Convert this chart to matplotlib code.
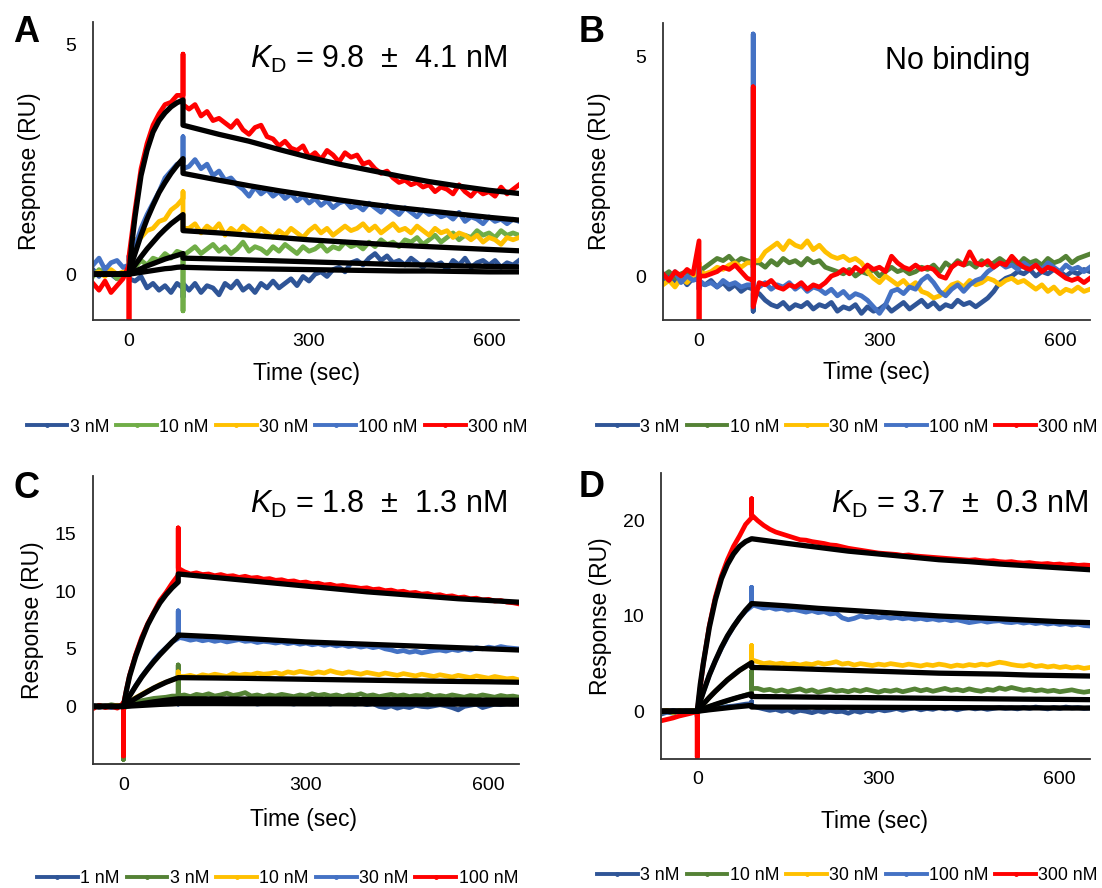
import numpy as np
import matplotlib.pyplot as plt
from matplotlib.lines import Line2D

plt.rcParams['font.family'] = ['Liberation Sans', 'DejaVu Sans']
plt.rcParams['mathtext.fontset'] = 'custom'
plt.rcParams['mathtext.rm'] = 'Liberation Sans'
plt.rcParams['mathtext.it'] = 'Liberation Sans:italic'

# sampling times (sec); 0 and 90 are repeated for the injection spikes
time = np.concatenate([np.arange(-60, 0, 10), [0, 0, 0], np.arange(10, 90, 10),
                       [90, 90, 90], np.arange(100, 660, 10)])
fit_time = [-60, 0, 5, 10, 20, 30, 40, 50, 60, 70, 80, 90,
            90, 150, 200, 250, 300, 350, 400, 450, 500, 550, 600, 650]

# ---------------- panel A ----------------
a_labels = ['3 nM', '10 nM', '30 nM', '100 nM', '300 nM']
a_3 = [0.1, -0.05, 0.15, 0.0, -0.1, 0.05, 0.05, 0.2, -0.1,
       -0.15, -0.05, -0.3, -0.2, -0.35, -0.25, -0.4, -0.2, -0.3, -0.5, -0.2,
       -0.35, -0.2, -0.4, -0.25, -0.3, -0.45, -0.2, -0.3, -0.15, -0.35, -0.25, -0.4, -0.2, -0.3,
       -0.15, -0.3, -0.2, -0.1, -0.25, -0.05, -0.15, 0.0, 0.05, -0.05, 0.1, 0.15, 0.05, 0.25,
       0.3, 0.2, 0.35, 0.45, 0.3, 0.4, 0.25, 0.3, 0.2, 0.35, 0.25, 0.15, 0.3, 0.2,
       0.25, 0.1, 0.3, 0.2, 0.35, 0.15, 0.25, 0.3, 0.2, 0.3, 0.15, 0.25, 0.2, 0.3]
a_10 = [-0.05, 0.1, 0.0, 0.05, -0.1, 0.0, 0.0, 0.1, 0.0,
        0.15, 0.3, 0.2, 0.35, 0.3, 0.45, 0.35, 0.5, 0.45, -0.8, 0.4,
        0.5, 0.6, 0.45, 0.55, 0.65, 0.5, 0.6, 0.45, 0.55, 0.7, 0.5, 0.6, 0.55, 0.45,
        0.6, 0.5, 0.65, 0.55, 0.45, 0.6, 0.5, 0.55, 0.65, 0.5, 0.6, 0.55, 0.7, 0.6,
        0.65, 0.55, 0.7, 0.6, 0.75, 0.65, 0.7, 0.6, 0.75, 0.7, 0.8, 0.65, 0.75, 0.85,
        0.7, 0.8, 0.9, 0.75, 0.85, 0.8, 0.95, 0.85, 0.9, 0.8, 0.95, 0.85, 0.9, 0.85]
a_30 = [0.0, 0.05, -0.05, 0.1, 0.0, 0.05, 0.0, 0.3, 0.2,
        0.75, 0.8, 0.95, 1.0, 1.15, 1.2, 1.4, 1.5, 1.65, 1.8, 1.0,
        1.0, 1.1, 0.9, 1.05, 0.95, 1.1, 0.85, 1.0, 0.9, 1.05, 0.95, 0.85, 1.0, 0.9,
        0.8, 0.95, 0.85, 1.0, 0.9, 0.8, 0.95, 1.05, 0.9, 1.0, 0.85, 0.95, 1.05, 0.95,
        1.0, 1.1, 0.95, 1.05, 0.9, 1.0, 1.1, 0.95, 1.0, 0.9, 1.05, 0.95, 0.85, 1.0,
        0.9, 0.95, 0.8, 0.9, 0.85, 0.75, 0.85, 0.7, 0.8, 0.75, 0.65, 0.8, 0.75, 0.8]
a_100 = [0.2, 0.35, 0.1, 0.25, 0.3, 0.15, 0.2, 0.4, 0.3,
         0.6, 1.0, 1.3, 1.55, 1.8, 2.1, 2.25, 2.4, 2.45, 3.0, 2.3,
         2.35, 2.5, 2.3, 2.4, 2.15, 2.25, 2.05, 2.1, 1.95, 1.85, 1.7, 1.9, 1.75, 1.85,
         1.7, 1.8, 1.65, 1.75, 1.6, 1.7, 1.55, 1.65, 1.5, 1.6, 1.45, 1.55, 1.6, 1.45,
         1.5, 1.4, 1.55, 1.45, 1.35, 1.5, 1.4, 1.3, 1.45, 1.35, 1.25, 1.4, 1.3, 1.35,
         1.25, 1.3, 1.2, 1.35, 1.15, 1.25, 1.2, 1.1, 1.25, 1.15, 1.2, 1.1, 1.2, 1.15]
a_300 = [-0.2, -0.35, -0.15, -0.4, -0.25, -0.1, 0.2, -1.2, 0.4,
         1.4, 2.3, 2.85, 3.25, 3.5, 3.7, 3.75, 3.9, 3.9, 4.8, 3.7,
         3.6, 3.7, 3.45, 3.55, 3.35, 3.4, 3.3, 3.2, 3.35, 3.15, 3.05, 3.2, 3.25, 3.0,
         2.95, 2.8, 2.9, 2.75, 2.7, 2.8, 2.55, 2.65, 2.5, 2.7, 2.6, 2.45, 2.65, 2.55,
         2.6, 2.4, 2.45, 2.3, 2.2, 2.25, 2.1, 2.0, 2.05, 1.95, 2.0, 1.9, 1.95, 1.8,
         1.9, 1.85, 1.75, 1.95, 1.8, 1.7, 1.85, 1.75, 1.8, 1.7, 1.9, 1.75, 1.85, 1.95]
a_fit_3 = [0, 0, 0.01, 0.02, 0.04, 0.06, 0.08, 0.1, 0.12, 0.13, 0.15, 0.16,
           0.15, 0.13, 0.12, 0.11, 0.1, 0.09, 0.08, 0.07, 0.07, 0.06, 0.05, 0.05]
a_fit_10 = [0, 0, 0.03, 0.06, 0.12, 0.18, 0.23, 0.28, 0.33, 0.37, 0.41, 0.45,
            0.35, 0.33, 0.31, 0.29, 0.27, 0.25, 0.23, 0.21, 0.2, 0.18, 0.17, 0.16]
a_fit_30 = [0, 0, 0.1, 0.2, 0.38, 0.55, 0.7, 0.85, 0.98, 1.1, 1.2, 1.3,
            0.95, 0.9, 0.85, 0.8, 0.75, 0.71, 0.67, 0.63, 0.6, 0.57, 0.54, 0.51]
a_fit_100 = [0, 0, 0.25, 0.45, 0.85, 1.2, 1.5, 1.78, 2.0, 2.2, 2.37, 2.52,
             2.2, 2.05, 1.93, 1.82, 1.72, 1.62, 1.53, 1.45, 1.38, 1.31, 1.24, 1.18]
a_fit_300 = [0, 0, 0.7, 1.25, 2.15, 2.7, 3.1, 3.35, 3.52, 3.65, 3.74, 3.8,
             3.25, 3.05, 2.9, 2.72, 2.55, 2.4, 2.27, 2.14, 2.02, 1.92, 1.83, 1.76]

# ---------------- panel B ----------------
b_labels = ['3 nM', '10 nM', '30 nM', '100 nM', '300 nM']
b_3 = [-0.1, 0.05, -0.15, 0.0, -0.2, -0.05, -0.1, -0.3, -0.15,
       -0.2, -0.1, -0.25, -0.15, -0.3, -0.2, -0.35, -0.25, -0.3, -0.8, -0.4,
       -0.4, -0.55, -0.65, -0.7, -0.6, -0.75, -0.65, -0.7, -0.6, -0.75, -0.65, -0.7, -0.6, -0.8,
       -0.7, -0.75, -0.65, -0.85, -0.7, -0.8, -0.75, -0.65, -0.8, -0.7, -0.6, -0.75, -0.65, -0.55,
       -0.7, -0.6, -0.75, -0.65, -0.7, -0.55, -0.65, -0.6, -0.7, -0.6, -0.5, -0.35, -0.15, -0.05,
       0.0, 0.1, 0.05, 0.15, 0.0, 0.1, 0.05, 0.15, 0.1, 0.0, 0.1, 0.05, 0.15, 0.1]
b_10 = [0.0, 0.1, -0.05, 0.05, 0.1, 0.0, 0.05, 0.2, 0.1,
        0.2, 0.3, 0.4, 0.35, 0.45, 0.3, 0.4, 0.35, 0.3, 0.2, 0.3,
        0.3, 0.2, 0.35, 0.25, 0.4, 0.3, 0.35, 0.25, 0.4, 0.3, 0.35, 0.2, 0.15, 0.1,
        0.05, 0.15, 0.0, 0.1, 0.05, 0.15, 0.0, 0.1, 0.2, 0.1, 0.15, 0.05, 0.1, 0.2,
        0.15, 0.25, 0.1, 0.3, 0.2, 0.35, 0.25, 0.3, 0.2, 0.35, 0.25, 0.3, 0.4, 0.3,
        0.35, 0.25, 0.4, 0.3, 0.35, 0.25, 0.4, 0.3, 0.35, 0.45, 0.3, 0.4, 0.45, 0.5]
b_30 = [-0.2, -0.1, -0.25, -0.05, -0.15, 0.0, 0.1, 0.3, 0.1,
        0.05, 0.1, 0.2, 0.15, 0.25, 0.3, 0.2, 0.3, 0.3, 0.2, 0.35,
        0.35, 0.55, 0.65, 0.75, 0.6, 0.8, 0.7, 0.65, 0.8, 0.6, 0.7, 0.55, 0.45, 0.4,
        0.45, 0.35, 0.4, 0.3, 0.1, -0.05, -0.15, 0.0, -0.1, -0.2, -0.1, -0.25, -0.15, -0.35,
        -0.4, -0.5, -0.45, -0.35, -0.2, -0.15, -0.25, -0.1, -0.2, -0.15, -0.05, -0.1, -0.2, -0.1,
        -0.05, -0.15, -0.1, -0.2, -0.3, -0.2, -0.35, -0.25, -0.4, -0.3, -0.35, -0.25, -0.35, -0.3]
b_100 = [0.05, -0.1, 0.1, -0.15, 0.0, -0.1, -0.05, 0.2, -0.1,
         -0.2, -0.15, -0.25, -0.1, -0.2, -0.15, -0.25, -0.2, -0.2, 5.5, -0.3,
         -0.25, -0.15, -0.3, -0.2, -0.25, -0.15, -0.3, -0.2, -0.35, -0.25, -0.3, -0.4, -0.3, -0.45,
         -0.35, -0.5, -0.4, -0.45, -0.55, -0.7, -0.85, -0.65, -0.35, -0.3, -0.4, -0.25, -0.3, -0.1,
         0.0, -0.15, -0.35, -0.45, -0.3, -0.2, -0.35, -0.2, -0.1, -0.05, 0.1, 0.2, 0.3, 0.2,
         0.25, 0.15, 0.3, 0.2, 0.25, 0.15, 0.3, 0.2, 0.1, 0.25, 0.15, 0.2, 0.1, 0.2]
b_300 = [0.05, -0.1, 0.1, 0.0, 0.15, 0.05, 0.8, -1.1, 0.0,
         0.0, 0.05, 0.1, 0.2, 0.15, 0.25, 0.1, -0.05, -0.1, 4.3, -0.7,
         -0.15, -0.2, -0.1, -0.25, -0.3, -0.2, -0.25, -0.15, -0.3, -0.2, -0.25, -0.15, 0.0, 0.05,
         0.15, 0.05, 0.2, 0.1, 0.25, 0.15, 0.2, 0.1, 0.45, 0.3, 0.2, 0.15, 0.25, 0.15,
         0.2, 0.15, 0.0, -0.05, 0.2, 0.3, 0.25, 0.55, 0.3, 0.25, 0.35, 0.2, 0.3, 0.25,
         0.45, 0.3, 0.2, 0.15, 0.25, 0.1, 0.2, 0.15, 0.05, -0.05, -0.1, -0.05, -0.15, -0.05]

# ---------------- panel C ----------------
c_labels = ['1 nM', '3 nM', '10 nM', '30 nM', '100 nM']
c_1 = [0.0, 0.1, -0.1, 0.05, 0.0, 0.1, 0.0, -0.3, 0.0,
       0.05, 0.1, 0.15, 0.2, 0.25, 0.3, 0.35, 0.3, 0.3, 0.2, 0.3,
       0.3, 0.4, 0.25, 0.35, 0.3, 0.45, 0.3, 0.35, 0.25, 0.4, 0.3, 0.35, 0.2, 0.3,
       0.35, 0.25, 0.4, 0.3, 0.2, 0.35, 0.3, 0.25, 0.4, 0.3, 0.2, 0.35, 0.25, 0.3,
       0.2, 0.3, 0.15, 0.25, 0.0, -0.1, 0.05, -0.15, 0.0, -0.1, 0.1, 0.0, -0.05, 0.05,
       0.15, 0.05, -0.1, -0.3, 0.0, 0.1, 0.2, -0.1, 0.05, 0.2, 0.15, 0.25, 0.2, 0.3]
c_3 = [0.0, -0.1, 0.1, 0.0, 0.15, 0.05, 0.0, -4.6, -0.2,
       0.2, 0.35, 0.5, 0.6, 0.7, 0.75, 0.8, 0.9, 0.9, 3.6, 0.9,
       1.0, 0.85, 1.05, 0.95, 1.1, 0.9, 1.0, 1.15, 0.95, 1.05, 1.2, 0.9, 1.0, 0.85,
       1.0, 0.9, 1.05, 0.95, 0.85, 1.0, 0.9, 1.1, 0.95, 1.05, 0.9, 1.0, 0.85, 1.0,
       0.95, 1.1, 0.9, 1.0, 0.85, 0.95, 1.05, 0.9, 1.0, 0.85, 0.95, 0.9, 1.05, 0.85,
       0.95, 0.85, 1.0, 0.9, 0.8, 0.95, 0.85, 1.0, 0.9, 0.8, 0.95, 0.85, 0.9, 0.8]
c_10 = [0.0, 0.1, -0.05, 0.05, 0.0, 0.1, 0.0, -0.5, 0.0,
        0.4, 0.75, 1.05, 1.35, 1.6, 1.9, 2.1, 2.3, 2.5, 3.0, 2.6,
        2.6, 2.7, 2.55, 2.75, 2.65, 2.8, 2.7, 2.6, 2.85, 2.7, 2.8, 2.75, 2.9, 2.8,
        2.85, 2.95, 2.8, 3.0, 2.9, 3.05, 2.95, 2.85, 3.0, 2.9, 3.1, 2.95, 2.85, 3.0,
        2.9, 2.8, 2.95, 2.85, 2.75, 2.9, 2.8, 2.7, 2.85, 2.75, 2.65, 2.8, 2.7, 2.6,
        2.75, 2.65, 2.55, 2.7, 2.6, 2.5, 2.65, 2.55, 2.45, 2.6, 2.5, 2.4, 2.45, 2.3]
c_30 = [0.0, 0.1, -0.05, 0.05, -0.1, 0.0, 0.0, -0.8, 0.0,
        0.9, 1.8, 2.6, 3.3, 4.0, 4.6, 5.1, 5.6, 5.9, 8.3, 6.0,
        5.9, 5.75, 5.85, 5.7, 5.8, 5.65, 5.75, 5.6, 5.7, 5.8, 5.65, 5.7, 5.55, 5.65,
        5.6, 5.5, 5.6, 5.45, 5.55, 5.4, 5.5, 5.35, 5.45, 5.3, 5.4, 5.25, 5.35, 5.2,
        5.3, 5.15, 5.25, 5.1, 5.2, 5.0, 4.9, 4.75, 4.85, 4.7, 4.8, 4.65, 4.75, 4.85,
        4.9, 4.8, 4.95, 4.85, 5.0, 4.9, 5.1, 5.0, 5.15, 5.05, 5.2, 5.1, 5.05, 5.0]
c_100 = [0.0, -0.2, 0.1, -0.1, 0.0, -0.15, 0.3, -4.3, 0.2,
         2.7, 4.5, 6.0, 7.2, 8.2, 9.2, 9.9, 10.7, 11.4, 15.5, 12.0,
         11.7, 11.5, 11.6, 11.45, 11.5, 11.35, 11.45, 11.3, 11.35, 11.2, 11.3, 11.15, 11.2, 11.05,
         11.1, 10.95, 11.0, 10.85, 10.9, 10.75, 10.8, 10.65, 10.7, 10.55, 10.6, 10.45, 10.5, 10.4,
         10.35, 10.25, 10.3, 10.15, 10.2, 10.05, 10.1, 9.95, 10.0, 9.85, 9.9, 9.75, 9.8, 9.65,
         9.7, 9.55, 9.6, 9.45, 9.5, 9.35, 9.4, 9.25, 9.3, 9.15, 9.2, 9.05, 9.0, 8.9]
c_fit_1 = [0, 0, 0.02, 0.03, 0.06, 0.09, 0.12, 0.15, 0.18, 0.2, 0.22, 0.25,
           0.25, 0.25, 0.24, 0.24, 0.23, 0.23, 0.22, 0.22, 0.21, 0.21, 0.2, 0.2]
c_fit_3 = [0, 0, 0.04, 0.08, 0.16, 0.24, 0.32, 0.4, 0.47, 0.54, 0.6, 0.66,
           0.66, 0.65, 0.64, 0.63, 0.62, 0.6, 0.59, 0.58, 0.57, 0.56, 0.55, 0.54]
c_fit_10 = [0, 0, 0.17, 0.35, 0.7, 1.0, 1.3, 1.6, 1.85, 2.1, 2.3, 2.5,
            2.5, 2.47, 2.44, 2.4, 2.36, 2.32, 2.28, 2.24, 2.2, 2.17, 2.14, 2.1]
c_fit_30 = [0, 0, 0.45, 0.9, 1.75, 2.55, 3.25, 3.9, 4.5, 5.05, 5.6, 6.1,
            6.2, 6.05, 5.9, 5.75, 5.6, 5.5, 5.4, 5.3, 5.2, 5.1, 5.0, 4.9]
c_fit_100 = [0, 0, 1.4, 2.6, 4.35, 5.8, 7.1, 8.1, 9.0, 9.7, 10.3, 10.8,
             11.5, 11.2, 10.95, 10.7, 10.45, 10.2, 9.95, 9.75, 9.55, 9.35, 9.2, 9.05]

# ---------------- panel D ----------------
d_labels = ['3 nM', '10 nM', '30 nM', '100 nM', '300 nM']
d_3 = [-0.3, -0.1, -0.2, 0.0, -0.15, -0.05, 0.0, -0.5, 0.0,
       0.1, 0.2, 0.3, 0.4, 0.5, 0.55, 0.65, 0.75, 0.8, 1.0, 0.6,
       0.4, 0.25, 0.1, 0.2, 0.0, 0.15, -0.1, 0.1, 0.0, -0.15, 0.05, -0.1, 0.1, -0.05,
       0.0, -0.2, 0.05, -0.1, 0.1, 0.0, 0.2, 0.05, 0.15, 0.3, 0.1, 0.25, 0.35, 0.15,
       0.3, 0.2, 0.4, 0.25, 0.35, 0.15, 0.3, 0.4, 0.25, 0.35, 0.2, 0.3, 0.4, 0.3,
       0.35, 0.25, 0.4, 0.3, 0.45, 0.35, 0.25, 0.4, 0.3, 0.45, 0.35, 0.4, 0.3, 0.35]
d_10 = [-0.1, 0.0, -0.15, 0.05, -0.05, 0.0, 0.0, -0.3, 0.0,
        0.25, 0.5, 0.7, 0.9, 1.1, 1.3, 1.5, 1.7, 1.9, 4.2, 2.4,
        2.4, 2.2, 2.3, 2.1, 2.25, 2.05, 2.2, 2.35, 2.1, 2.25, 2.0, 2.15, 2.3, 2.1,
        2.2, 2.05, 2.25, 2.1, 2.3, 2.15, 2.0, 2.2, 2.1, 2.25, 2.05, 2.2, 2.35, 2.15,
        2.3, 2.1, 2.25, 2.4, 2.2, 2.3, 2.15, 2.35, 2.2, 2.1, 2.3, 2.2, 2.45, 2.3,
        2.5, 2.35, 2.2, 2.3, 2.15, 2.25, 2.1, 2.2, 2.05, 2.15, 2.25, 2.1, 2.0, 2.1]
d_30 = [0.0, 0.1, -0.1, 0.05, 0.0, 0.1, 0.0, -0.4, 0.0,
        0.75, 1.45, 2.1, 2.7, 3.3, 3.8, 4.3, 4.7, 5.1, 6.9, 5.4,
        5.2, 5.0, 5.1, 4.95, 5.05, 4.9, 5.0, 4.85, 5.0, 4.9, 5.1, 4.95, 5.05, 5.2,
        4.95, 5.05, 4.85, 5.0, 4.9, 4.8, 4.95, 4.85, 5.0, 4.9, 4.8, 4.95, 4.85, 4.75,
        4.9, 4.8, 4.95, 4.85, 4.7, 4.85, 4.75, 4.9, 4.8, 4.95, 4.85, 5.0, 5.15, 5.05,
        4.9, 4.8, 4.75, 4.9, 4.7, 4.8, 4.65, 4.75, 4.6, 4.7, 4.55, 4.65, 4.5, 4.6]
d_100 = [0.0, -0.1, 0.1, -0.05, 0.05, 0.0, 0.0, -0.6, 0.1,
         2.0, 3.8, 5.3, 6.6, 7.8, 8.9, 9.8, 10.5, 11.0, 13.0, 11.2,
         11.0, 10.8, 10.9, 10.7, 10.8, 10.6, 10.7, 10.55, 10.4, 10.55, 10.35, 10.45, 10.2, 10.3,
         9.8, 9.6, 9.75, 10.0, 9.85, 9.95, 9.8, 9.9, 9.75, 9.85, 9.7, 9.8, 9.65, 9.75,
         9.6, 9.7, 9.55, 9.65, 9.5, 9.6, 9.45, 9.3, 9.4, 9.5, 9.35, 9.45, 9.5, 9.35,
         9.3, 9.4, 9.25, 9.35, 9.2, 9.3, 9.15, 9.25, 9.1, 9.2, 9.05, 9.15, 9.0, 8.95]
d_300 = [-1.0, -0.85, -0.7, -0.5, -0.35, -0.2, 0.0, -4.8, 0.0,
         5.0, 9.0, 12.0, 14.2, 15.9, 17.3, 18.4, 19.6, 20.3, 22.3, 20.6,
         20.0, 19.5, 19.1, 18.8, 18.6, 18.4, 18.2, 18.0, 17.95, 17.8, 17.7, 17.6, 17.45, 17.4,
         17.25, 17.1, 17.0, 16.9, 16.8, 16.7, 16.6, 16.55, 16.5, 16.45, 16.35, 16.4, 16.3, 16.25,
         16.2, 16.15, 16.1, 16.05, 16.0, 15.95, 15.9, 15.85, 15.9, 15.8, 15.75, 15.8, 15.7, 15.65,
         15.7, 15.6, 15.55, 15.6, 15.5, 15.45, 15.5, 15.4, 15.45, 15.35, 15.4, 15.3, 15.35, 15.3]
d_fit_3 = [0, 0, 0.04, 0.08, 0.16, 0.23, 0.3, 0.37, 0.44, 0.5, 0.56, 0.62,
           0.45, 0.44, 0.43, 0.42, 0.41, 0.4, 0.39, 0.38, 0.37, 0.36, 0.35, 0.34]
d_fit_10 = [0, 0, 0.12, 0.25, 0.5, 0.72, 0.93, 1.13, 1.32, 1.5, 1.66, 1.82,
            1.55, 1.52, 1.48, 1.45, 1.42, 1.39, 1.36, 1.33, 1.3, 1.27, 1.25, 1.22]
d_fit_30 = [0, 0, 0.4, 0.75, 1.45, 2.1, 2.7, 3.3, 3.8, 4.3, 4.7, 5.1,
            4.6, 4.5, 4.4, 4.3, 4.2, 4.1, 4.0, 3.95, 3.9, 3.8, 3.75, 3.7]
d_fit_100 = [0, 0, 1.05, 2.0, 3.8, 5.3, 6.7, 7.9, 8.9, 9.8, 10.6, 11.3,
             11.3, 11.05, 10.8, 10.6, 10.4, 10.2, 10.0, 9.85, 9.7, 9.55, 9.4, 9.3]
d_fit_300 = [0, 0, 2.8, 5.0, 8.8, 11.7, 13.9, 15.4, 16.5, 17.3, 17.8, 18.1,
             18.1, 17.6, 17.2, 16.8, 16.5, 16.2, 15.9, 15.7, 15.45, 15.25, 15.05, 14.85]

navy = '#2F5597'
green_light = '#70AD47'
green_dark = '#548235'
yellow = '#FFC000'
blue = '#4472C4'
red = '#FF0000'


def draw_panel(ax, series, colors, fits, xlim, ylim, yticks, xlab_xy, ylab_xy):
    for y, c in zip(series, colors):
        ax.plot(time, y, color=c, lw=3.4)
    for f in fits:
        ax.plot(fit_time, f, color='black', lw=3.8)
    ax.set_xlim(*xlim)
    ax.set_ylim(*ylim)
    ax.set_xticks([0, 300, 600])
    ax.set_yticks(yticks)
    for s in ['top', 'right']:
        ax.spines[s].set_visible(False)
    for s in ['left', 'bottom']:
        ax.spines[s].set_color('#333333')
        ax.spines[s].set_linewidth(1.3)
    ax.tick_params(axis='x', length=0, pad=9, labelsize=14)
    ax.tick_params(axis='y', length=0, pad=12, labelsize=14)
    ax.set_xlabel('Time (sec)', fontsize=16.5, va='center')
    ax.set_ylabel('Response (RU)', fontsize=16.5, va='center')
    ax.xaxis.set_label_coords(*xlab_xy)
    ax.yaxis.set_label_coords(*ylab_xy)


def add_legend(labels, colors, xy):
    handles = [Line2D([], [], color=c, lw=2.8, marker='o', markersize=2.5)
               for c in colors]
    fig.legend(handles, labels, loc='center', bbox_to_anchor=xy, ncol=5,
               frameon=False, fontsize=12.8, handlelength=2.3,
               handletextpad=0.12, columnspacing=0.4, numpoints=1,
               borderpad=0, borderaxespad=0)


fig = plt.figure(figsize=(11.02, 8.88), dpi=100)

axA = fig.add_axes([0.0844, 0.6396, 0.3866, 0.3356])
axB = fig.add_axes([0.6016, 0.6396, 0.3875, 0.3345])
axC = fig.add_axes([0.0844, 0.1396, 0.3866, 0.3243])
axD = fig.add_axes([0.5998, 0.1453, 0.3893, 0.3221])

colors_a = [navy, green_light, yellow, blue, red]
colors_b = [navy, green_dark, yellow, blue, red]

draw_panel(axA, [a_3, a_10, a_30, a_100, a_300], colors_a,
           [a_fit_3, a_fit_10, a_fit_30, a_fit_100, a_fit_300],
           (-60, 650), (-1, 5.5), [0, 5], (0.5, -0.178), (-0.148, 0.5))
draw_panel(axB, [b_3, b_10, b_30, b_100, b_300], colors_b, [],
           (-60, 650), (-1, 5.75), [0, 5], (0.501, -0.178), (-0.148, 0.5))
draw_panel(axC, [c_1, c_3, c_10, c_30, c_100], colors_b,
           [c_fit_1, c_fit_3, c_fit_10, c_fit_30, c_fit_100],
           (-50, 650), (-5, 20), [0, 5, 10, 15], (0.494, -0.193), (-0.141, 0.5))
draw_panel(axD, [d_3, d_10, d_30, d_100, d_300], colors_b,
           [d_fit_3, d_fit_10, d_fit_30, d_fit_100, d_fit_300],
           (-60, 650), (-5, 25), [0, 10, 20], (0.498, -0.217), (-0.142, 0.5))

kd = r'$K_{\mathrm{D}}$'
axA.text(0.972, 0.846, kd + ' = 9.8  ±  4.1 nM', transform=axA.transAxes,
         ha='right', va='baseline', fontsize=22)
axB.text(0.689, 0.845, 'No binding', transform=axB.transAxes,
         ha='center', va='baseline', fontsize=22)
axC.text(0.972, 0.872, kd + ' = 1.8  ±  1.3 nM', transform=axC.transAxes,
         ha='right', va='baseline', fontsize=22)
axD.text(0.995, 0.86, kd + ' = 3.7  ±  0.3 nM', transform=axD.transAxes,
         ha='right', va='baseline', fontsize=22)

for letter, x, y in [('A', 0.012, 0.9527), ('B', 0.525, 0.9527),
                     ('C', 0.012, 0.4392), ('D', 0.525, 0.4403)]:
    fig.text(x, y, letter, fontsize=26, fontweight='bold', va='baseline')

add_legend(a_labels, colors_a, (0.2514, 0.5191))
add_legend(b_labels, colors_b, (0.769, 0.5191))
add_legend(c_labels, colors_b, (0.2518, 0.0105))
add_legend(d_labels, colors_b, (0.769, 0.0139))

fig.savefig('out.png', dpi=100)
